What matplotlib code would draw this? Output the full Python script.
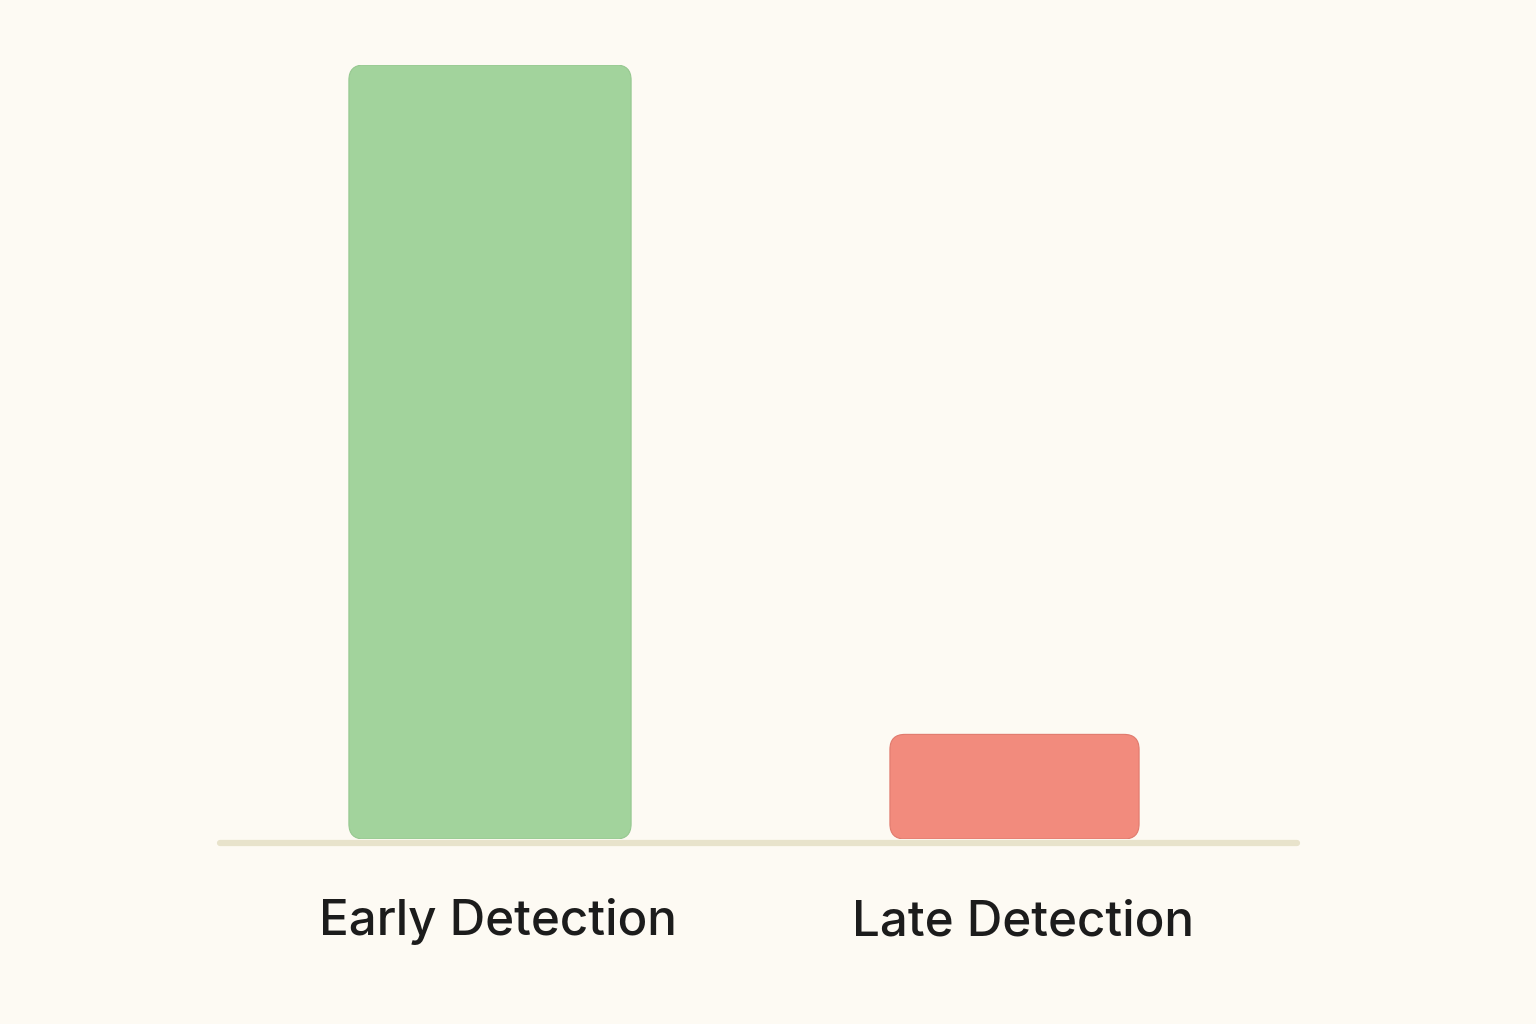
import matplotlib
matplotlib.use("Agg")
import matplotlib.pyplot as plt
from matplotlib.patches import FancyBboxPatch

categories = ["Early Detection", "Late Detection"]
values = [91, 12.3]
colors = ["#a2d39c", "#f28b7d"]
edge_colors = ["#96c890", "#e07a6d"]
widths = [0.538, 0.475]

bg = "#fdfaf3"

fig = plt.figure(figsize=(15.36, 10.24), dpi=100)
fig.patch.set_facecolor(bg)
# axes placed so that baseline sits at ~839 px and category centres at ~490 / ~1014 px
W, H = 1536, 1024
x0_px, x1_px = 217, 1300
base_px, top_px = 839, 65
ax = fig.add_axes([x0_px / W, 1 - base_px / H, (x1_px - x0_px) / W, (base_px - top_px) / H])
ax.set_facecolor(bg)
# map category 0 -> 490 px, 1 -> 1014.5 px
ppu = 1014.5 - 490
ax.set_xlim((x0_px - 490) / ppu, (x1_px - 490) / ppu)
ax.set_ylim(0, values[0])
ax.axis("off")

bars = ax.bar(range(len(categories)), values, width=widths, color="none")

# replace bars by rounded boxes
xppu = ax.bbox.width / (ax.get_xlim()[1] - ax.get_xlim()[0])
yppu = ax.bbox.height / (ax.get_ylim()[1] - ax.get_ylim()[0])
aspect = xppu / yppu
r_px = 15
for b, c, ec in zip(bars, colors, edge_colors):
    b.set_visible(False)
    p = FancyBboxPatch((b.get_x(), b.get_y()), b.get_width(), b.get_height(),
                       boxstyle="round,pad=0,rounding_size=%f" % (r_px / xppu),
                       mutation_aspect=aspect, facecolor=c, edgecolor=ec,
                       linewidth=0.8, zorder=3)
    ax.add_patch(p)

# baseline
ax.plot([ax.get_xlim()[0] + 3 / xppu, ax.get_xlim()[1] - 3 / xppu], [-4 / yppu, -4 / yppu],
        color="#e8e3cb", linewidth=4.5, solid_capstyle="round", clip_on=False, zorder=2)

for i, name in enumerate(categories):
    ax.text(i + 8 / xppu, -96 / yppu, name, ha="center", va="baseline", fontsize=35.5,
            family=["Inter", "DejaVu Sans"], color="#1c1c1c", fontweight="medium")

fig.savefig("out.png", dpi=100, facecolor=bg)
